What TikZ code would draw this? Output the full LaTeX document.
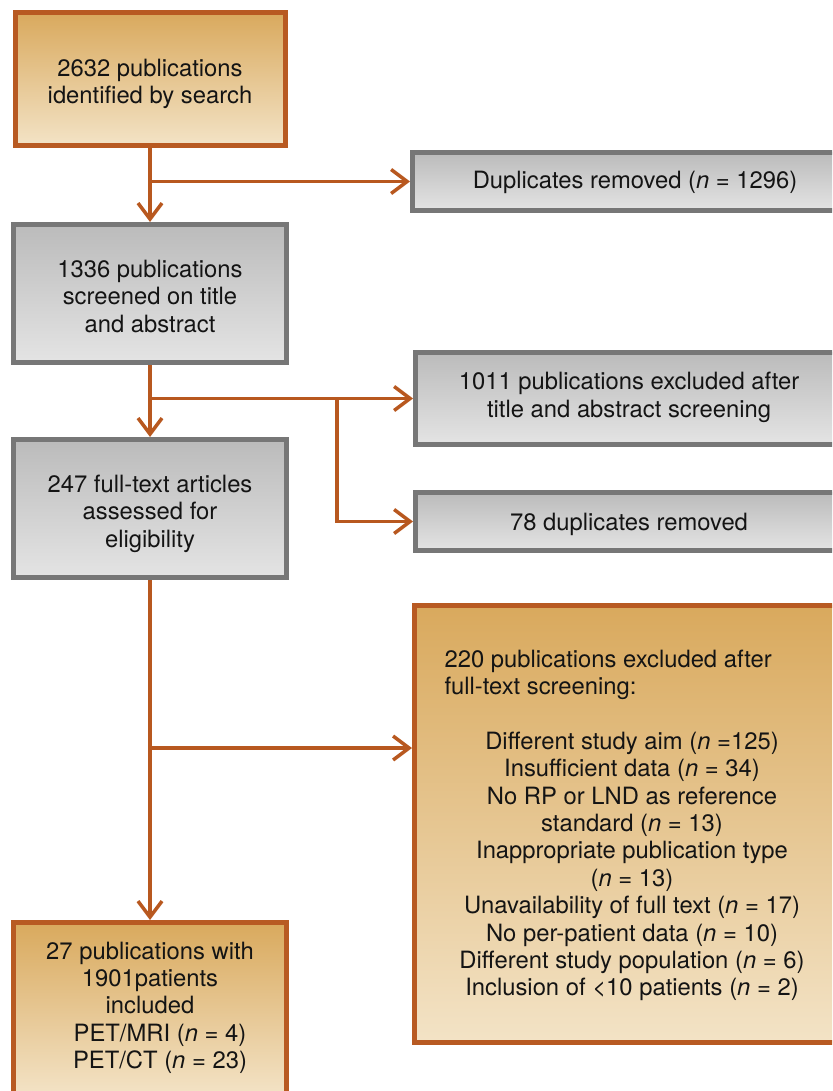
\documentclass[tikz,border=0pt]{standalone}
\usepackage{fontspec}
\setmainfont{TeX Gyre Heros}
\usetikzlibrary{arrows.meta}
\definecolor{orng}{HTML}{B85A22}
\definecolor{lnk}{HTML}{B8581F}
\definecolor{ortop}{HTML}{D9A95D}
\definecolor{orbot}{HTML}{F3E3C6}
\definecolor{gbord}{HTML}{777777}
\definecolor{gtop}{HTML}{BBBBBB}
\definecolor{gbot}{HTML}{E4E4E4}
\begin{document}
\begin{tikzpicture}[x=1pt,y=-1pt,
  txt/.style={font=\fontsize{23.8}{27.4}\selectfont, align=center, text=black!92},
  obox/.style={draw=orng, line width=5pt, top color=ortop, bottom color=orbot},
  gbox/.style={draw=gbord, line width=5pt, top color=gtop, bottom color=gbot},
  link/.style={draw=lnk, line width=3.5pt},
  arr/.style={link, -{Straight Barb[length=16pt,width=24pt]}}]
\useasboundingbox (0,0) rectangle (832,1091);
\clip (0,0) rectangle (832,1091);
% left column
\node[obox, minimum width=270pt, minimum height=133pt] (b1) at (150,79) {};
\node[txt] (t1) at ([yshift=-5pt]b1.center) {2632 publications\\identified by search};
\node[gbox, minimum width=273pt, minimum height=138pt] (b2) at (150,293.5) {};
\node[txt] (t2) at ([yshift=-3pt]b2.center) {1336 publications\\screened on title\\and abstract};
\node[gbox, minimum width=273pt, minimum height=138pt] (b3) at (150,508.5) {};
\node[txt] (t3) at ([yshift=-5pt]b3.center) {247 full-text articles\\assessed for\\eligibility};
\node[obox, minimum width=273pt, minimum height=172.5pt] (b4) at (150,1008.75) {};
\node[txt] (t4) at ([yshift=1pt]b4.center)
  {27 publications with\\1901patients\\included\\
   \hspace*{20pt}PET/MRI (\textit{n} = 4)\\\hspace*{20pt}PET/CT (\textit{n} = 23)};
% right column
\node[gbox, minimum width=445pt, minimum height=58pt] (dup) at (635,181.5) {};
\node[txt] (td) at ([yshift=-1pt]dup.center) {Duplicates removed (\textit{n} = 1296)};
\node[gbox, minimum width=427pt, minimum height=92pt] (ex1) at (629,398.5) {};
\node[txt] (te1) at ([yshift=1pt]ex1.center) {1011 publications excluded after\\title and abstract screening};
\node[gbox, minimum width=427pt, minimum height=58pt] (dup2) at (629,521.5) {};
\node[txt] (td2) at ([yshift=-3pt]dup2.center) {78 duplicates removed};
\node[obox, minimum width=435.5pt, minimum height=437pt] (ex2) at (632.25,824) {};
\node[txt, align=left, anchor=west] (hd) at (441,675)
  {220 publications excluded after\\full-text screening:};
\node[txt] (lst) at (632,866.5)
  {Different study aim (\textit{n} =125)\\
   Insufficient data (\textit{n} = 34)\\
   No RP or LND as reference\\
   standard (\textit{n} = 13)\\
   Inappropriate publication type\\
   (\textit{n} = 13)\\
   Unavailability of full text (\textit{n} = 17)\\
   No per-patient data (\textit{n} = 10)\\
   Different study population (\textit{n} = 6)\\
   Inclusion of <10 patients (\textit{n} = 2)};
% connectors
\draw[arr] (b1) -- (b2);
\coordinate (j1) at (b1.south |- dup.west);
\draw[arr] (j1) -- (dup.west);
\draw[arr] (b2) -- (b3);
\coordinate (j2) at (b2.south |- ex1.west);
\draw[arr] (j2) -- (ex1.west);
\path (ex1.west) ++(-76,0) coordinate (j3);
\draw[arr] (j3) |- (dup2.west);
\draw[arr] (b3) -- (b4);
\coordinate (j4) at (150,748);
\draw[arr] (j4) -- (j4 -| ex2.west);
\end{tikzpicture}
\end{document}
